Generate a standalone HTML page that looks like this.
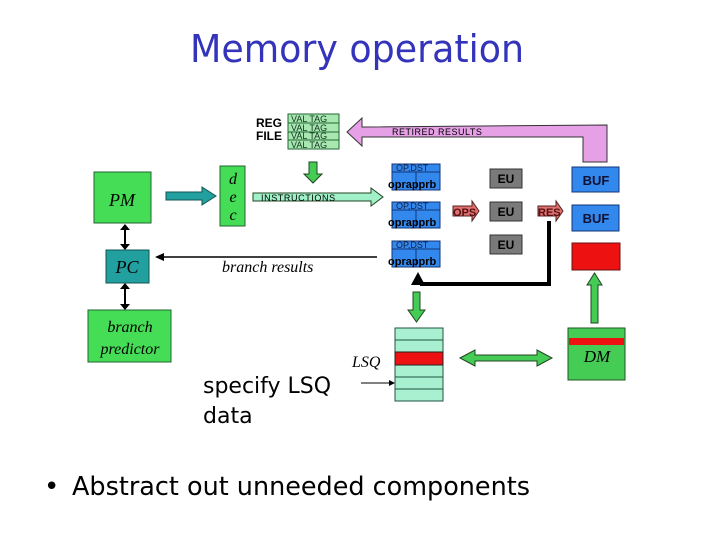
<!DOCTYPE html>
<html><head><style>body{margin:0;background:#fff}svg{display:block}</style></head><body>
<svg width="720" height="540" viewBox="0 0 720 540" xmlns="http://www.w3.org/2000/svg" font-family="Liberation Sans, sans-serif">
<rect width="720" height="540" fill="#fff"/>
<text x="190" y="62" font-size="38" fill="#3333bb" textLength="334" lengthAdjust="spacingAndGlyphs" font-family="DejaVu Sans, sans-serif">Memory operation</text>

<!-- REG FILE -->
<text x="256" y="127" font-size="12" font-weight="bold">REG</text>
<text x="256" y="140" font-size="12" font-weight="bold">FILE</text>
<g fill="#a8e8b0" stroke="#226633" stroke-width="1">
<rect x="288" y="114" width="51" height="9"/><rect x="288" y="123" width="51" height="9"/>
<rect x="288" y="132" width="51" height="8"/><rect x="288" y="140" width="51" height="9"/>
</g>
<g font-size="9" fill="#113322"><text x="291" y="122">VAL TAG</text><text x="291" y="131">VAL TAG</text><text x="291" y="139">VAL TAG</text><text x="291" y="148">VAL TAG</text></g>

<!-- retired results -->
<path d="M347,132 L362,118 L362,127 L607,125 L607,162 L583,162 L583,137 L362,137 L362,146 Z" fill="#e6a0e6" stroke="#333" stroke-width="1"/>
<text x="392" y="135" font-size="9" letter-spacing="0.5">RETIRED RESULTS</text>

<!-- down arrow -->
<path d="M309,162 L317,162 L317,174 L322,174 L313,183 L304,174 L309,174 Z" fill="#44cc55" stroke="#224422"/>

<!-- PM, PC, BP -->
<rect x="94" y="172" width="57" height="51" fill="#44dd55" stroke="#226633"/>
<text x="122" y="206" font-size="18" font-style="italic" text-anchor="middle" font-family="Liberation Serif, serif">PM</text>
<rect x="106" y="250" width="43" height="33" fill="#22a0a0" stroke="#115555"/>
<text x="127" y="273" font-size="18" font-style="italic" text-anchor="middle" font-family="Liberation Serif, serif">PC</text>
<rect x="88" y="310" width="83" height="52" fill="#44dd55" stroke="#226633"/>
<text x="130" y="332" font-size="16" font-style="italic" text-anchor="middle" font-family="Liberation Serif, serif">branch</text>
<text x="130" y="354" font-size="16" font-style="italic" text-anchor="middle" font-family="Liberation Serif, serif">predictor</text>
<g stroke="#000" stroke-width="2"><line x1="125" y1="229" x2="125" y2="245"/><line x1="125" y1="288" x2="125" y2="305"/></g>
<g fill="#000"><path d="M120,230 L125,224 L130,230Z"/><path d="M120,244 L125,250 L130,244Z"/><path d="M120,289 L125,283 L130,289Z"/><path d="M120,304 L125,310 L130,304Z"/></g>

<!-- PM -> dec -->
<path d="M166,192 L202,192 L202,187 L216,196 L202,205 L202,200 L166,200 Z" fill="#22a0a0" stroke="#115555"/>
<rect x="220" y="166" width="25" height="60" fill="#44dd55" stroke="#226633"/>
<g font-size="16" font-style="italic" text-anchor="middle" font-family="Liberation Serif, serif"><text x="233" y="184">d</text><text x="233" y="202">e</text><text x="233" y="220">c</text></g>

<!-- instructions -->
<path d="M253,193 L371,193 L371,188 L383,197 L371,206 L371,201 L253,201 Z" fill="#a0f0c8" stroke="#224422"/>
<text x="261" y="201" font-size="9" letter-spacing="0.6">INSTRUCTIONS</text>

<!-- branch results -->
<line x1="160" y1="257" x2="377" y2="257" stroke="#000" stroke-width="1.5"/>
<path d="M155,257 L164,253 L164,261Z"/>
<text x="222" y="272" font-size="16" font-style="italic" font-family="Liberation Serif, serif">branch results</text>

<!-- RS blocks -->
<g font-size="9">
<g><rect x="392" y="164" width="48" height="26" fill="#3388ee" stroke="#113377"/><line x1="392" y1="172" x2="440" y2="172" stroke="#113377"/><line x1="416" y1="172" x2="416" y2="190" stroke="#113377"/><text x="396" y="171" fill="#112244">OP,DST</text><text x="388" y="188" font-weight="bold" font-size="11">oprapprb</text></g>
<g><rect x="392" y="202" width="48" height="26" fill="#3388ee" stroke="#113377"/><line x1="392" y1="210" x2="440" y2="210" stroke="#113377"/><line x1="416" y1="210" x2="416" y2="228" stroke="#113377"/><text x="396" y="209" fill="#112244">OP,DST</text><text x="388" y="226" font-weight="bold" font-size="11">oprapprb</text></g>
<g><rect x="392" y="241" width="48" height="26" fill="#3388ee" stroke="#113377"/><line x1="392" y1="249" x2="440" y2="249" stroke="#113377"/><line x1="416" y1="249" x2="416" y2="267" stroke="#113377"/><text x="396" y="248" fill="#112244">OP,DST</text><text x="388" y="265" font-weight="bold" font-size="11">oprapprb</text></g>
</g>

<!-- OPS / RES -->
<path d="M453,206 L472,206 L472,201 L479,211 L472,221 L472,216 L453,216 Z" fill="#e07070" stroke="#552222"/>
<text x="453" y="216" font-size="11" font-weight="bold" fill="#551111">OPS</text>
<path d="M538,206 L556,206 L556,201 L563,211 L556,221 L556,216 L538,216 Z" fill="#e07070" stroke="#552222"/>
<text x="538" y="216" font-size="11" font-weight="bold" fill="#551111">RES</text>

<!-- EU -->
<g fill="#7a7a7a" stroke="#333"><rect x="490" y="169" width="32" height="19"/><rect x="490" y="202" width="32" height="19"/><rect x="490" y="235" width="32" height="19"/></g>
<g font-size="12" font-weight="bold" text-anchor="middle"><text x="506" y="183">EU</text><text x="506" y="216">EU</text><text x="506" y="249">EU</text></g>

<!-- BUF -->
<rect x="572" y="167" width="47" height="25" fill="#3388ee" stroke="#113377"/>
<rect x="572" y="205" width="47" height="26" fill="#3388ee" stroke="#113377"/>
<rect x="572" y="243" width="48" height="27" fill="#ee1111" stroke="#661111"/>
<g font-size="13" font-weight="bold" text-anchor="middle" fill="#111133"><text x="596" y="185">BUF</text><text x="596" y="223">BUF</text></g>

<!-- black feedback -->
<path d="M549,221 L549,284 L420,284" fill="none" stroke="#000" stroke-width="4"/>
<path d="M411,285 L418,272 L425,285Z"/>

<!-- green arrows -->
<path d="M591,323 L598,323 L598,285 L602,285 L594.5,273 L587,285 L591,285 Z" fill="#44cc55" stroke="#224422"/>
<path d="M413,292 L420,292 L420,310 L425,310 L416.5,322 L408,310 L413,310 Z" fill="#44cc55" stroke="#224422"/>
<path d="M460,358 L475,350 L475,355 L537,355 L537,350 L552,358 L537,366 L537,361 L475,361 L475,366 Z" fill="#44cc55" stroke="#224422"/>

<!-- LSQ -->
<g fill="#a8f0d0" stroke="#225544"><rect x="395" y="328" width="48" height="12"/><rect x="395" y="340" width="48" height="12"/><rect x="395" y="365" width="48" height="12"/><rect x="395" y="377" width="48" height="12"/><rect x="395" y="389" width="48" height="12"/></g>
<rect x="395" y="352" width="48" height="13" fill="#ee1111" stroke="#222"/>
<text x="352" y="367" font-size="16" font-style="italic" font-family="Liberation Serif, serif">LSQ</text>
<line x1="361" y1="383" x2="391" y2="383" stroke="#000" stroke-width="1"/><path d="M395,383 L389,380 L389,386Z"/>

<!-- DM -->
<rect x="568" y="328" width="57" height="52" fill="#44cc55" stroke="#225522"/>
<rect x="569" y="338" width="55" height="7" fill="#ee1111"/>
<text x="597" y="362" font-size="17" font-style="italic" text-anchor="middle" font-family="Liberation Serif, serif">DM</text>

<!-- texts -->
<text x="203" y="393" font-size="22" font-family="DejaVu Sans, sans-serif">specify LSQ</text>
<text x="203" y="423" font-size="22" font-family="DejaVu Sans, sans-serif">data</text>
<text x="44" y="495" font-size="26" font-family="DejaVu Sans, sans-serif">•</text>
<text x="72" y="495" font-size="26" font-family="DejaVu Sans, sans-serif" textLength="458" lengthAdjust="spacingAndGlyphs">Abstract out unneeded components</text>
</svg>
</body></html>
